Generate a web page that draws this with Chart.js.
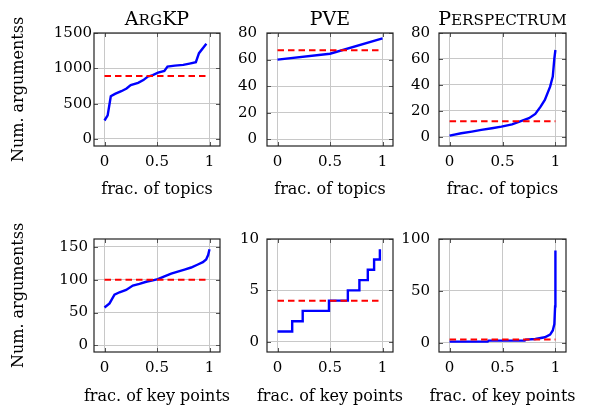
<!DOCTYPE html>
<html>
<head>
<meta charset="utf-8">
<script src="https://cdn.jsdelivr.net/npm/chart.js@4.4.1/dist/chart.umd.min.js"></script>
<style>
  body { margin: 0; background: #fff; }
  #wrap { position: relative; width: 589px; height: 408px; }
  #wrap canvas { position: absolute; left: 0; top: 0; }
</style>
</head>
<body>
<div id="wrap">
  <canvas id="argkpTopics" width="589" height="408"></canvas>
  <canvas id="pveTopics" width="589" height="408"></canvas>
  <canvas id="perspTopics" width="589" height="408"></canvas>
  <canvas id="argkpKps" width="589" height="408"></canvas>
  <canvas id="pveKps" width="589" height="408"></canvas>
  <canvas id="perspKps" width="589" height="408"></canvas>
</div>
<script>
// values (sorted counts per topic / key point)
const xTicks = [0, 0.5, 1];

const argkpTopicX = [0, 0.03, 0.06, 0.1, 0.16, 0.21, 0.25, 0.32, 0.37, 0.41, 0.46, 0.51, 0.57, 0.6, 0.67, 0.75, 0.81, 0.87, 0.9, 0.97];
const argkpTopicY = [261, 333, 604, 638, 676, 714, 762, 795, 833, 881, 905, 938, 962, 1024, 1038, 1048, 1067, 1086, 1214, 1348];
const argkpTopicMean = 890;
const argkpTopicTicks = [0, 500, 1000, 1500];

const pveTopicX = [0, 0.5, 1];
const pveTopicY = [60, 64.4, 76];
const pveTopicMean = 67;
const pveTopicTicks = [0, 20, 40, 60, 80];

const perspTopicX = [0, 0.11, 0.21, 0.3, 0.4, 0.49, 0.59, 0.68, 0.75, 0.81, 0.86, 0.9, 0.95, 0.975, 0.99, 1];
const perspTopicY = [1, 2.8, 4.1, 5.4, 6.7, 7.9, 9.7, 12.3, 14.4, 17.7, 23.3, 28.5, 38.7, 46.4, 60.5, 66.9];
const perspTopicMean = 12;
const perspTopicTicks = [0, 20, 40, 60, 80];

const argkpKpX = [0, 0.048, 0.095, 0.143, 0.206, 0.27, 0.333, 0.397, 0.46, 0.508, 0.571, 0.635, 0.698, 0.762, 0.825, 0.889, 0.937, 0.968, 0.987, 1];
const argkpKpY = [57.7, 63.9, 77.3, 80.9, 84.5, 91.2, 93.8, 96.9, 99, 101, 105.2, 109.3, 112.4, 115.5, 118.6, 123.2, 126.8, 130.9, 137.6, 146.4];
const argkpKpMean = 100;
const argkpKpTicks = [0, 50, 100, 150];

const pveKpX = [0, 0.14, 0.24, 0.49, 0.67, 0.78, 0.86, 0.92, 0.975];
const pveKpY = [1, 2, 3, 4, 5, 6, 7, 8, 9];
const pveKpMean = 4;
const pveKpTicks = [0, 5, 10];

const perspKpX = [0, 0.36, 0.37, 0.71, 0.72, 0.81, 0.9, 0.95, 0.975, 0.99, 0.997, 1];
const perspKpY = [1, 1, 2, 2, 3, 3.6, 5.2, 7.8, 11.8, 18, 35, 89];
const perspKpMean = 3;
const perspKpTicks = [0, 50, 100];

// panel frame positions in the 589x408 page
const colLeft = [94, 267, 439];
const colRight = [220, 393, 566];
const rowTop = [33, 239];
const rowBottom = [146, 352];

const FONT = "'DejaVu Serif', serif";
Chart.defaults.font.family = FONT;
Chart.defaults.color = "#000";

// lowercase letters drawn as smaller capitals, like \textsc
function drawSmallCaps(ctx, text, cx, baseline, size) {
  const parts = [...text].map((ch) => {
    const low = ch !== ch.toUpperCase();
    return { t: ch.toUpperCase(), size: low ? size * 0.8 : size };
  });
  let total = 0;
  parts.forEach((part) => {
    ctx.font = part.size + "px " + FONT;
    part.w = ctx.measureText(part.t).width;
    total += part.w;
  });
  let x = cx - total / 2;
  ctx.textAlign = "left";
  ctx.textBaseline = "alphabetic";
  parts.forEach((part) => {
    ctx.font = part.size + "px " + FONT;
    ctx.fillText(part.t, x, baseline);
    x += part.w;
  });
}

// pgfplots style box with inner tick marks, plus titles and axis labels
const framePlugin = {
  id: "frame",
  afterDraw(chart, args, opts) {
    const { ctx, chartArea: a, scales } = chart;
    ctx.save();
    ctx.strokeStyle = "#555";
    ctx.lineWidth = 1;
    ctx.beginPath();
    scales.x.ticks.forEach((t) => {
      const px = Math.round(scales.x.getPixelForValue(t.value)) + 0.5;
      ctx.moveTo(px, a.bottom);
      ctx.lineTo(px, a.bottom - 4);
      ctx.moveTo(px, a.top);
      ctx.lineTo(px, a.top + 4);
    });
    scales.y.ticks.forEach((t) => {
      const py = Math.round(scales.y.getPixelForValue(t.value)) + 0.5;
      ctx.moveTo(a.left, py);
      ctx.lineTo(a.left + 4, py);
      ctx.moveTo(a.right, py);
      ctx.lineTo(a.right - 4, py);
    });
    ctx.stroke();
    ctx.strokeStyle = "#222";
    ctx.lineWidth = 1.2;
    ctx.strokeRect(a.left, a.top, a.right - a.left, a.bottom - a.top);

    const cx = (a.left + a.right) / 2;
    ctx.fillStyle = "#000";
    if (opts.title) {
      drawSmallCaps(ctx, opts.title, cx, a.top - 8, 19);
    }
    ctx.font = "16px " + FONT;
    ctx.textAlign = "center";
    ctx.textBaseline = "alphabetic";
    ctx.fillText(opts.xLabel, cx, a.bottom + opts.xLabelGap);
    if (opts.yLabel) {
      ctx.translate(19, (a.top + a.bottom) / 2);
      ctx.rotate(-Math.PI / 2);
      ctx.textBaseline = "middle";
      ctx.fillText(opts.yLabel, 0, 0);
    }
    ctx.restore();
  },
};

function drawPanel(canvasId, p) {
  const left = colLeft[p.col];
  const right = colRight[p.col];
  const top = rowTop[p.row];
  const bottom = rowBottom[p.row];
  const yAxisW = p.col === 0 ? left : 60;
  const xAxisH = 30;

  new Chart(document.getElementById(canvasId), {
    type: "line",
    data: {
      datasets: [
        {
          label: "mean",
          data: [
            { x: 0, y: p.mean },
            { x: 1, y: p.mean },
          ],
          borderColor: "#ff0000",
          borderWidth: 2,
          borderDash: [6.5, 4],
          order: 0,
        },
        {
          label: "count",
          data: p.xs.map((x, i) => ({ x: x, y: p.ys[i] })),
          borderColor: "#0000ff",
          borderWidth: 2.4,
          stepped: p.stepped ? "before" : false,
          order: 1,
        },
      ],
    },
    options: {
      responsive: false,
      animation: false,
      layout: {
        padding: {
          left: left - yAxisW,
          right: 589 - right,
          top: top,
          bottom: 408 - bottom - xAxisH,
        },
      },
      elements: { point: { radius: 0 }, line: { tension: 0 } },
      plugins: {
        legend: { display: false },
        tooltip: { enabled: false },
        title: { display: false },
        frame: {
          title: p.title,
          xLabel: p.xLabel,
          xLabelGap: p.row === 0 ? 47.5 : 49,
          yLabel: p.col === 0 ? "Num. argumentss" : null,
        },
      },
      scales: {
        x: {
          type: "linear",
          min: -0.1,
          max: 1.1,
          afterBuildTicks: (s) => {
            s.ticks = xTicks.map((v) => ({ value: v }));
          },
          afterFit: (s) => {
            s.height = xAxisH;
          },
          grid: { color: "#c8c8c8", lineWidth: 1, drawTicks: false },
          border: { display: false },
          ticks: {
            font: { size: 15 },
            padding: 7,
            maxRotation: 0,
            callback: (v) => String(v),
          },
        },
        y: {
          type: "linear",
          min: p.yMin,
          max: p.yMax,
          afterBuildTicks: (s) => {
            s.ticks = p.yTicks.map((v) => ({ value: v }));
          },
          afterFit: (s) => {
            s.width = yAxisW;
          },
          grid: { color: "#c8c8c8", lineWidth: 1, drawTicks: false },
          border: { display: false },
          ticks: {
            font: { size: 15 },
            padding: p.tickPad,
            callback: (v) => String(v),
          },
        },
      },
    },
    plugins: [framePlugin],
  });
}

drawPanel("argkpTopics", {
  col: 0, row: 0, title: "ArgKP", xLabel: "frac. of topics",
  xs: argkpTopicX, ys: argkpTopicY, mean: argkpTopicMean,
  yMin: -100, yMax: 1500, yTicks: argkpTopicTicks, tickPad: 2,
});
drawPanel("pveTopics", {
  col: 1, row: 0, title: "PVE", xLabel: "frac. of topics",
  xs: pveTopicX, ys: pveTopicY, mean: pveTopicMean,
  yMin: -5, yMax: 80, yTicks: pveTopicTicks, tickPad: 10,
});
drawPanel("perspTopics", {
  col: 2, row: 0, title: "Perspectrum", xLabel: "frac. of topics",
  xs: perspTopicX, ys: perspTopicY, mean: perspTopicMean,
  yMin: -7, yMax: 80, yTicks: perspTopicTicks, tickPad: 9,
});
drawPanel("argkpKps", {
  col: 0, row: 1, xLabel: "frac. of key points",
  xs: argkpKpX, ys: argkpKpY, mean: argkpKpMean,
  yMin: -10, yMax: 162, yTicks: argkpKpTicks, tickPad: 6,
});
drawPanel("pveKps", {
  col: 1, row: 1, xLabel: "frac. of key points",
  xs: pveKpX, ys: pveKpY, mean: pveKpMean, stepped: true,
  yMin: -1, yMax: 10, yTicks: pveKpTicks, tickPad: 8,
});
drawPanel("perspKps", {
  col: 2, row: 1, xLabel: "frac. of key points",
  xs: perspKpX, ys: perspKpY, mean: perspKpMean,
  yMin: -9, yMax: 100, yTicks: perspKpTicks, tickPad: 9,
});
</script>
</body>
</html>
